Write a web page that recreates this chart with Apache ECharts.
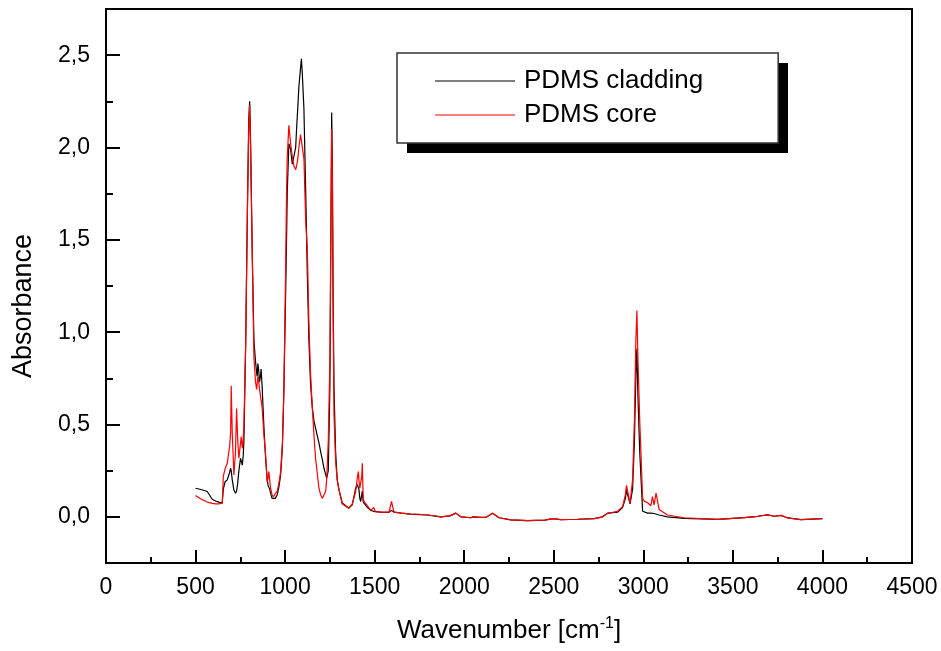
<!DOCTYPE html>
<html><head><meta charset="utf-8">
<script src="https://cdn.jsdelivr.net/npm/echarts@6/dist/echarts.min.js"></script>
<style>html,body{margin:0;padding:0;background:#fff}#c{width:941px;height:651px}</style>
</head><body><div id="c"></div><script>
const wavenumber = [500,530,565,593,612,630,649,655,665,677,690,696,699,705,714,723,729,735,742,751,755,761,766,770,780,790,797,802,807,817,826,835,841,844,848,852,857,862,866,872,881,891,900,905,909,914,919,927,934,945,956,965,975,985,993,1003,1008,1012,1021,1031,1040,1049,1059,1064,1071,1077,1086,1091,1096,1105,1115,1124,1133,1142,1152,1161,1170,1189,1198,1208,1217,1226,1232,1241,1250,1256,1260,1264,1268,1273,1282,1291,1300,1319,1328,1356,1375,1394,1403,1409,1412,1417,1422,1428,1431,1436,1441,1460,1478,1494,1505,1534,1580,1594,1608,1650,1701,1750,1794,1830,1869,1920,1953,1981,2037,2050,2090,2120,2158,2195,2260,2353,2450,2493,2540,2633,2726,2772,2800,2856,2884,2900,2906,2912,2926,2940,2950,2958,2964,2970,2980,2996,3005,3024,3042,3051,3060,3071,3088,3135,3228,3415,3564,3638,3694,3731,3769,3806,3880,4000];
const cladding = [0.155,0.148,0.137,0.095,0.086,0.080,0.074,0.15,0.19,0.20,0.24,0.263,0.25,0.20,0.145,0.128,0.14,0.18,0.25,0.317,0.31,0.28,0.33,0.41,0.95,1.70,2.15,2.25,2.05,1.40,0.95,0.84,0.78,0.76,0.83,0.80,0.73,0.76,0.80,0.70,0.50,0.317,0.20,0.17,0.16,0.15,0.128,0.10,0.092,0.10,0.12,0.16,0.227,0.38,0.68,1.21,1.50,1.76,2.02,1.99,1.91,1.90,2.00,2.10,2.22,2.33,2.43,2.48,2.40,2.21,1.76,1.31,0.95,0.72,0.59,0.52,0.48,0.40,0.355,0.31,0.263,0.23,0.21,0.25,0.70,1.60,2.19,1.90,1.20,0.70,0.35,0.20,0.15,0.075,0.065,0.047,0.065,0.155,0.175,0.18,0.15,0.10,0.083,0.12,0.14,0.08,0.07,0.05,0.035,0.03,0.028,0.025,0.024,0.035,0.025,0.02,0.015,0.012,0.010,0.005,0.0,0.005,0.02,0.0,-0.005,0.0,-0.003,-0.003,0.02,-0.005,-0.016,-0.02,-0.018,-0.01,-0.015,-0.013,-0.01,0.0,0.02,0.025,0.05,0.10,0.15,0.12,0.07,0.15,0.40,0.75,0.91,0.65,0.35,0.03,0.025,0.02,0.02,0.02,0.018,0.015,0.01,0.0,-0.008,-0.014,-0.004,0.003,0.011,0.003,0.008,-0.006,-0.015,-0.01];
const core = [0.115,0.097,0.080,0.073,0.070,0.070,0.075,0.22,0.26,0.29,0.38,0.46,0.71,0.45,0.227,0.35,0.587,0.42,0.317,0.40,0.434,0.37,0.42,0.50,0.95,1.70,2.10,2.23,2.0,1.40,0.86,0.73,0.69,0.72,0.76,0.74,0.69,0.66,0.63,0.59,0.45,0.34,0.19,0.21,0.245,0.20,0.155,0.12,0.108,0.115,0.14,0.18,0.245,0.40,0.68,1.35,1.76,1.95,2.12,2.02,1.95,1.90,1.88,1.90,1.94,2.00,2.07,2.08,2.06,1.94,1.60,1.45,1.04,0.78,0.59,0.44,0.317,0.155,0.12,0.10,0.105,0.137,0.20,0.41,0.85,1.60,2.10,1.80,1.10,0.55,0.30,0.20,0.15,0.07,0.06,0.047,0.07,0.137,0.21,0.245,0.20,0.155,0.15,0.22,0.29,0.10,0.083,0.06,0.035,0.05,0.028,0.025,0.026,0.083,0.025,0.02,0.015,0.014,0.010,0.006,0.0,0.005,0.02,0.0,-0.005,0.0,-0.003,-0.003,0.02,-0.005,-0.016,-0.02,-0.018,-0.01,-0.015,-0.013,-0.01,0.0,0.018,0.03,0.055,0.12,0.17,0.14,0.074,0.20,0.52,0.95,1.117,0.85,0.52,0.10,0.085,0.076,0.06,0.11,0.065,0.128,0.04,0.01,-0.005,-0.014,-0.004,0.003,0.011,0.003,0.008,-0.006,-0.015,-0.01];
const seriesNames = ['PDMS cladding', 'PDMS core'];
const yMajorTicks = [0, 0.5, 1, 1.5, 2, 2.5];
const yMinorTicks = [-0.25, 0.25, 0.75, 1.25, 1.75, 2.25];

const FONT = 'Liberation Sans, Arial, sans-serif';
const chart = echarts.init(document.getElementById('c'), null, {renderer: 'canvas'});
const pairs = arr => wavenumber.map((w, i) => [w, arr[i]]);

chart.setOption({
  animation: false,
  backgroundColor: '#fff',
  grid: {left: 106, right: 29, top: 9, bottom: 86, show: true, borderColor: '#000', borderWidth: 2, backgroundColor: 'transparent'},
  xAxis: {
    type: 'value', min: 0, max: 4500, interval: 500,
    axisLine: {onZero: false, lineStyle: {color: '#000', width: 2}},
    axisTick: {inside: true, length: 13, lineStyle: {color: '#000', width: 2}},
    minorTick: {show: true, splitNumber: 2, length: 6, lineStyle: {color: '#000', width: 2}},
    splitLine: {show: false},
    axisLabel: {color: '#000', fontSize: 23, fontFamily: FONT, margin: 13, showMinLabel: true, showMaxLabel: true,
      formatter: v => String(v)},
    name: 'Wavenumber [cm{sup|-1}]',
    nameLocation: 'middle', nameGap: 53,
    nameTextStyle: {color: '#000', fontSize: 26, fontFamily: FONT, lineHeight: 30,
      rich: {sup: {fontSize: 16, fontFamily: FONT, color: '#000', verticalAlign: 'top', padding: [0, 0, 10, 0], lineHeight: 30}}}
  },
  yAxis: [{
    type: 'value', min: -0.25, max: 2.75,
    axisLine: {onZero: false, lineStyle: {color: '#000', width: 2}},
    axisTick: {inside: true, length: 14, customValues: yMajorTicks, lineStyle: {color: '#000', width: 2}},
    splitLine: {show: false},
    axisLabel: {color: '#000', fontSize: 23, fontFamily: FONT, margin: 16, customValues: yMajorTicks,
      formatter: v => v.toFixed(1).replace('.', ',')}
  }, {
    type: 'value', min: -0.25, max: 2.75, position: 'left',
    axisLine: {show: false, onZero: false},
    axisTick: {inside: true, length: 7, customValues: yMinorTicks, lineStyle: {color: '#000', width: 2}},
    axisLabel: {show: false},
    splitLine: {show: false}
  }],
  legend: {
    orient: 'vertical', left: 397, top: 53,
    icon: 'rect', itemWidth: 80, itemHeight: 1.2, itemGap: 6,
    padding: [14, 75, 14, 38],
    backgroundColor: '#fff', borderColor: '#333', borderWidth: 1.5,
    textStyle: {fontSize: 26, fontFamily: FONT, color: '#000', lineHeight: 28, padding: [0, 0, 0, 4]},
    data: seriesNames
  },
  graphic: [{
    type: 'rect', shape: {x: 407, y: 63, width: 381, height: 90}, style: {fill: '#000'}, z: 0
  }, {
    type: 'text', x: 24, y: 306, rotation: Math.PI / 2,
    style: {text: 'Absorbance', fontSize: 27, fontFamily: FONT, fill: '#000', align: 'center', verticalAlign: 'middle'}
  }],
  series: [{
    name: seriesNames[0], type: 'line', data: pairs(cladding), showSymbol: false, symbol: 'none',
    lineStyle: {color: '#000', width: 1.2}, itemStyle: {color: '#000'}
  }, {
    name: seriesNames[1], type: 'line', data: pairs(core), showSymbol: false, symbol: 'none',
    lineStyle: {color: '#ff0000', width: 1.2}, itemStyle: {color: '#ff0000'}
  }]
});
</script></body></html>
